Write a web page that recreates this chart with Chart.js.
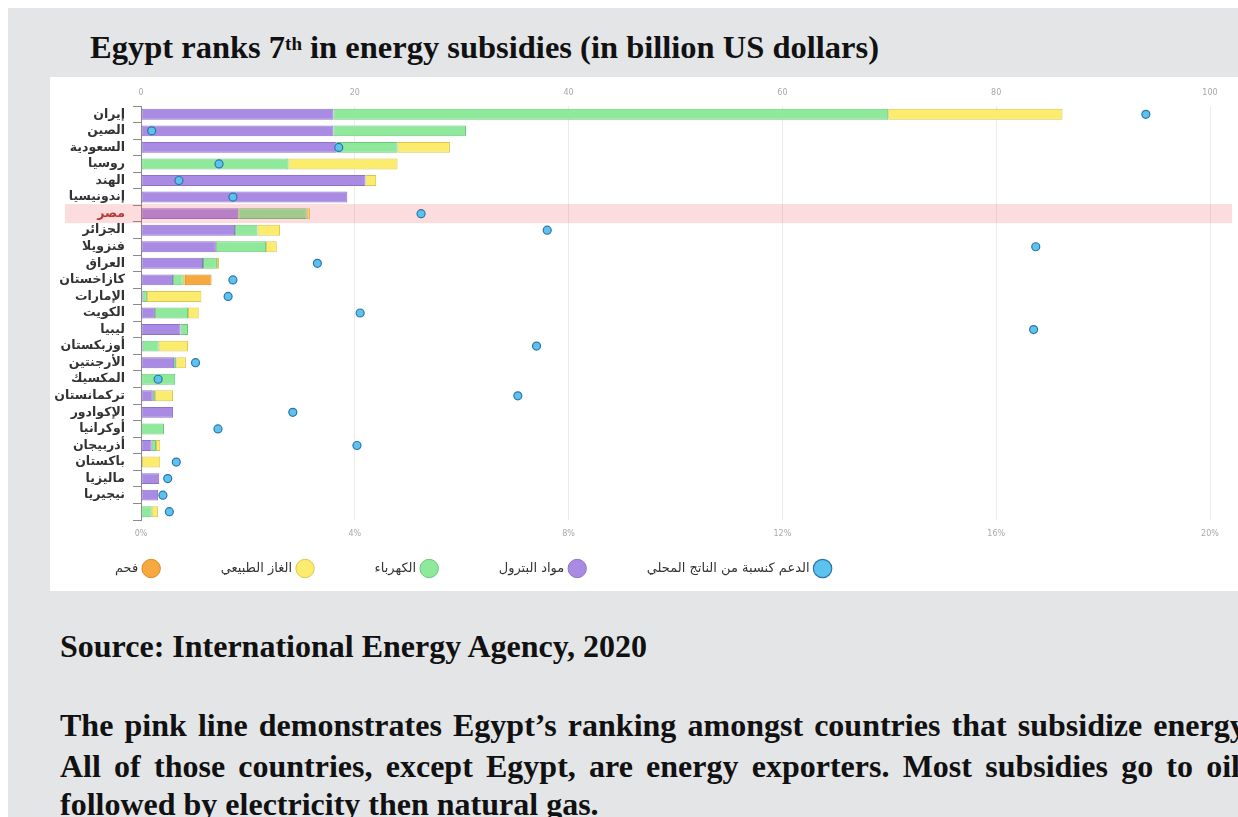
<!DOCTYPE html>
<html>
<head>
<meta charset="utf-8">
<script src="https://cdn.jsdelivr.net/npm/chart.js@4/dist/chart.umd.min.js"></script>
<style>
body{margin:0;background:#fff;width:1238px;height:817px;overflow:hidden;position:relative;font-family:'Liberation Serif',serif}
#bg{position:absolute;left:8px;top:8px;width:1230px;height:809px;background:#e4e5e7}
.t{position:absolute;font-weight:bold;font-size:32px;line-height:32px;color:#111;white-space:nowrap}
#title sup{font-size:19px;vertical-align:top;position:relative;top:-3px}
#card{position:absolute;left:50px;top:77px;width:1188px;height:514px;background:#fff}
.just{text-align:justify;text-align-last:justify;white-space:normal}
</style>
</head>
<body>
<div id="bg"></div>
<div id="title" class="t" style="left:90px;top:31px;font-size:32.5px">Egypt ranks 7<sup>th</sup> in energy subsidies (in billion US dollars)</div>
<div id="card"><canvas id="c" width="1188" height="514"></canvas></div>
<div class="t" style="left:60px;top:630px">Source: International Energy Agency, 2020</div>
<div class="t just" style="left:60px;top:709px;width:1192px">The pink line demonstrates Egypt’s ranking amongst countries that subsidize energy.</div>
<div class="t just" style="left:60px;top:750px;width:1180px">All of those countries, except Egypt, are energy exporters. Most subsidies go to oil</div>
<div class="t" style="left:60px;top:788px">followed by electricity then natural gas.</div>
<script>
// countries, top to bottom
var COUNTRIES=['إيران','الصين','السعودية','روسيا','الهند','إندونيسيا','مصر','الجزائر','فنزويلا','العراق','كازاخستان','الإمارات','الكويت','ليبيا','أوزبكستان','الأرجنتين','المكسيك','تركمانستان','الإكوادور','أوكرانيا','أذربيجان','باكستان','ماليزيا','نيجيريا',''];
// billion US dollars
var OIL  =[18.0,18.0,18.3,0,  21.0,19.3,9.1,8.8,7.0,5.8,3.0,0.15,1.3,3.7,0.15,3.1,0,  1.1,3.0,0,   1.0,0.1,1.7,1.6,0];
var ELEC =[51.9,12.4,5.7,13.8,0,   0,   6.4,2.1,4.7,1.3,0.9,0.4, 3.1,0.7,1.5, 0.2,3.2,0.2,0,  2.15,0.4,0,  0,  0,  1.0];
var GAS  =[16.3,0,   4.9,10.2,1.0, 0,   0.3,2.1,1.0,0.2,0.2,5.1, 1.0,0,  2.75,0.9,0,  1.7,0,  0,   0.4,1.7,0,  0,  0.6];
var COAL =[0,   0,   0,  0,   0,   0,   0,  0,  0,  0,  2.5,0,   0,  0,  0,   0,  0,  0,  0,  0,   0,  0,  0,  0,  0];
// subsidy as % of GDP
var SHARE=[18.8,0.2,3.7,1.46,0.71,1.72,5.24,7.6,16.74,3.3,1.72,1.63,4.1,16.7,7.4,1.02,0.32,7.05,2.84,1.44,4.04,0.66,0.5,0.41,0.53];
var LEGEND=['الدعم كنسبة من الناتج المحلي','مواد البترول','الكهرباء','الغاز الطبيعي','فحم'];
var HIGHLIGHT='مصر';

var PAL={share:'#5cc3ee',shareB:'#2f74a8',oil:'#a98be3',oilB:'#8f72c8',elec:'#8ee99b',elecB:'#6fc47c',gas:'#fcec6e',gasB:'#d8c650',coal:'#f5a93e',coalB:'#d88a25',grid:'#ececec',tick:'#a8a8a8',axis:'#8a8a8a'};

var bandPlugin={
    id:'band',
    beforeDatasetDraw:function(chart,args){
        if(args.index!==0)return;
        var y=chart.scales.y, i=COUNTRIES.indexOf(HIGHLIGHT), cy=y.getPixelForValue(i), ctx=chart.ctx;
        ctx.save();ctx.fillStyle='rgba(240,80,80,0.2)';ctx.fillRect(15,cy-9.5,1167,19);ctx.restore();
    }
};
// legend sits left of centre and lower than its box in the source
var legendShift={
    id:'legendShift',
    beforeDraw:function(chart){var lg=chart.legend;if(!lg)return;lg.left=-40;lg.right=884;lg.width=924;lg.top=493-63-8;}
};

var ctx=document.getElementById('c').getContext('2d');
function bar(label,data,c,b){return{label:label,data:data,backgroundColor:c,borderColor:b,borderWidth:1,borderSkipped:false,barPercentage:0.66,categoryPercentage:1,order:1}}
new Chart(ctx,{
    type:'bar',
    data:{labels:COUNTRIES,datasets:[
        {type:'line',label:LEGEND[0],data:SHARE,xAxisID:'x2',indexAxis:'y',showLine:false,pointRadius:4,pointStyle:'circle',backgroundColor:PAL.share,borderColor:PAL.shareB,borderWidth:1.2,order:0},
        bar(LEGEND[1],OIL,PAL.oil,PAL.oilB),
        bar(LEGEND[2],ELEC,PAL.elec,PAL.elecB),
        bar(LEGEND[3],GAS,PAL.gas,PAL.gasB),
        bar(LEGEND[4],COAL,PAL.coal,PAL.coalB)
    ]},
    options:{
        indexAxis:'y',responsive:false,animation:false,
        layout:{padding:{top:0,right:28,bottom:0,left:0}},
        plugins:{
            tooltip:{enabled:false},
            legend:{display:true,position:'bottom',rtl:true,textDirection:'rtl',maxHeight:30,
                labels:{usePointStyle:true,boxWidth:16,boxHeight:15,padding:63,color:'#333',font:{family:"'DejaVu Sans',sans-serif",size:13}}}
        },
        scales:{
            x:{position:'top',stacked:true,min:0,max:100,
                grid:{color:PAL.grid,drawTicks:false},border:{display:false},
                ticks:{stepSize:20,padding:8,color:PAL.tick,font:{family:"'DejaVu Sans',sans-serif",size:8}},
                afterFit:function(s){s.height=29}},
            x2:{type:'linear',position:'bottom',min:0,max:20,
                grid:{display:false},border:{display:false},
                ticks:{stepSize:4,padding:1,color:PAL.tick,font:{family:"'DejaVu Sans',sans-serif",size:8},callback:function(v){return v+'%'}},
                afterFit:function(s){s.height=41}},
            y:{stacked:true,
                grid:{drawOnChartArea:false,tickLength:8,color:PAL.axis},border:{color:PAL.axis},
                ticks:{padding:8,autoSkip:false,font:{family:"'DejaVu Sans',sans-serif",size:12.5,weight:'bold'},
                    color:function(c){return COUNTRIES[c.index]===HIGHLIGHT?'#b03030':'#333'}},
                afterFit:function(s){s.width=91}}
        }
    },
    plugins:[bandPlugin,legendShift]
});
</script>
</body>
</html>
